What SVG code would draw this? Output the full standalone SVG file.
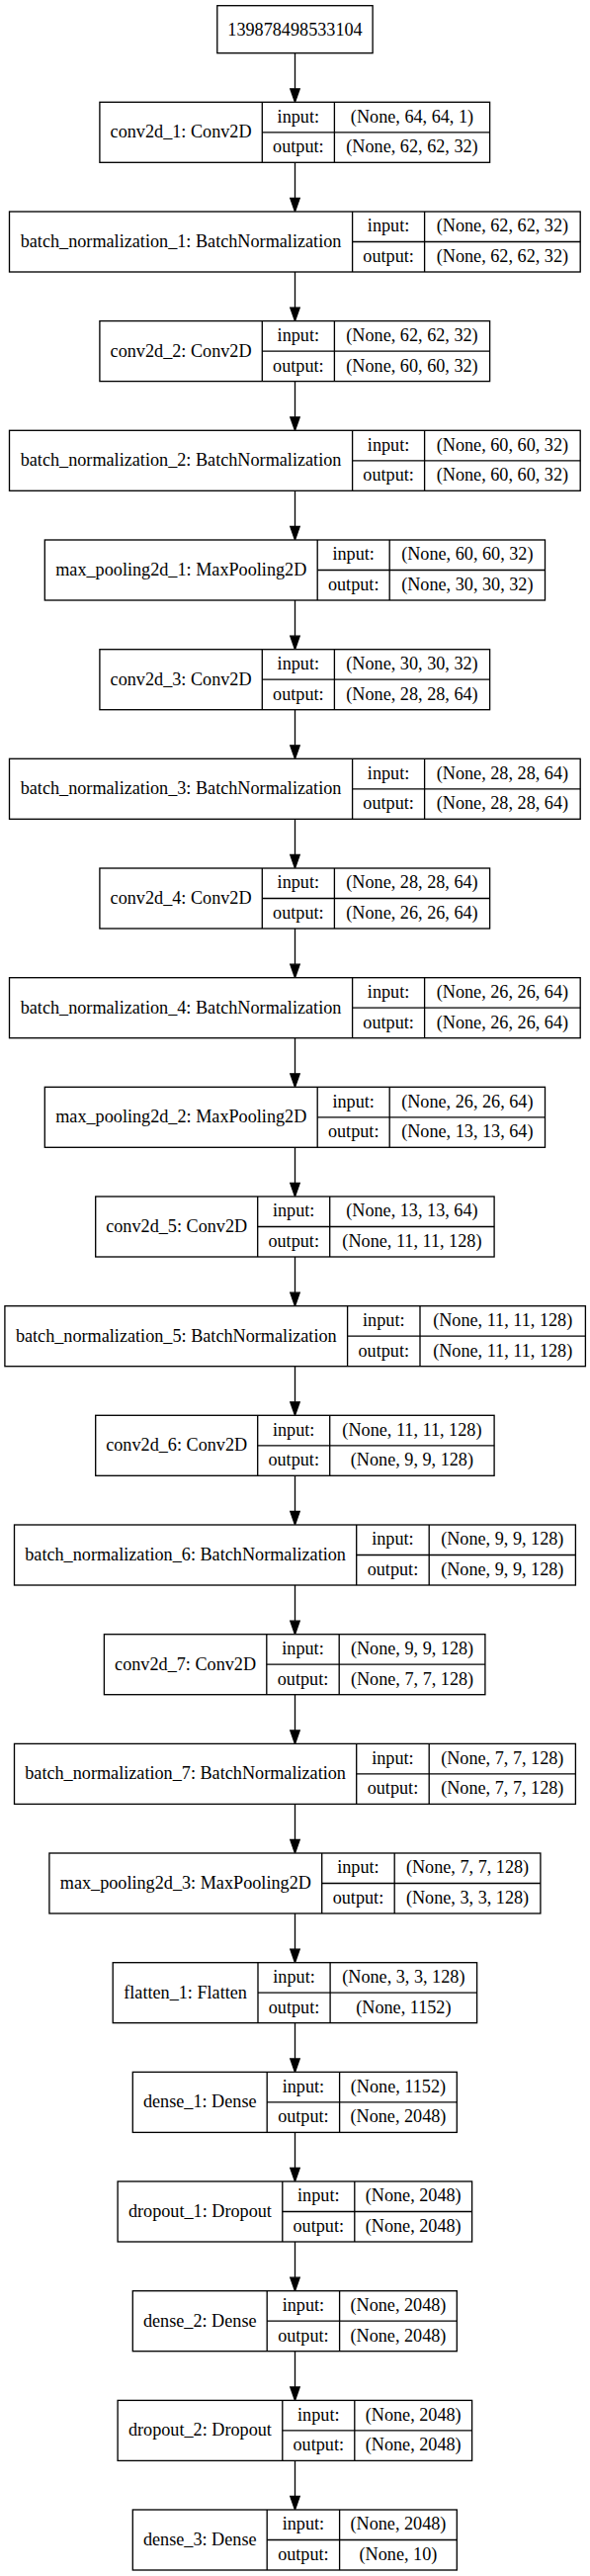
<svg xmlns="http://www.w3.org/2000/svg" width="597" height="2605" viewBox="0 0 597 2605">
<style>
rect{fill:#fff;stroke:#000;stroke-width:1.33}
line{stroke:#000;stroke-width:1.33}
text{font-family:"Liberation Serif","Times New Roman",serif;font-size:18.2px;fill:#000;text-anchor:middle}
.c path{fill:none;stroke:#000;stroke-width:1.33}
.c polygon{fill:#000;stroke:#000;stroke-width:1.33}
</style>
<rect x="0" y="0" width="597" height="2605" style="stroke:none"/>
<g class="c" id="connectors">
<path d="M298.5,54V89.8"/><polygon points="293.8,89.8 303.2,89.8 298.5,103.3"/>
<path d="M298.5,164.3V200.5"/><polygon points="293.8,200.5 303.2,200.5 298.5,214"/>
<path d="M298.5,275V311.1"/><polygon points="293.8,311.1 303.2,311.1 298.5,324.6"/>
<path d="M298.5,385.6V421.8"/><polygon points="293.8,421.8 303.2,421.8 298.5,435.3"/>
<path d="M298.5,496.3V532.5"/><polygon points="293.8,532.5 303.2,532.5 298.5,546"/>
<path d="M298.5,607V643.2"/><polygon points="293.8,643.2 303.2,643.2 298.5,656.7"/>
<path d="M298.5,717.7V753.8"/><polygon points="293.8,753.8 303.2,753.8 298.5,767.3"/>
<path d="M298.5,828.3V864.5"/><polygon points="293.8,864.5 303.2,864.5 298.5,878"/>
<path d="M298.5,939V975.2"/><polygon points="293.8,975.2 303.2,975.2 298.5,988.7"/>
<path d="M298.5,1049.7V1085.8"/><polygon points="293.8,1085.8 303.2,1085.8 298.5,1099.3"/>
<path d="M298.5,1160.3V1196.5"/><polygon points="293.8,1196.5 303.2,1196.5 298.5,1210"/>
<path d="M298.5,1271V1307.2"/><polygon points="293.8,1307.2 303.2,1307.2 298.5,1320.7"/>
<path d="M298.5,1381.7V1417.8"/><polygon points="293.8,1417.8 303.2,1417.8 298.5,1431.3"/>
<path d="M298.5,1492.3V1528.5"/><polygon points="293.8,1528.5 303.2,1528.5 298.5,1542"/>
<path d="M298.5,1603V1639.2"/><polygon points="293.8,1639.2 303.2,1639.2 298.5,1652.7"/>
<path d="M298.5,1713.7V1749.9"/><polygon points="293.8,1749.9 303.2,1749.9 298.5,1763.4"/>
<path d="M298.5,1824.4V1860.5"/><polygon points="293.8,1860.5 303.2,1860.5 298.5,1874"/>
<path d="M298.5,1935V1971.2"/><polygon points="293.8,1971.2 303.2,1971.2 298.5,1984.7"/>
<path d="M298.5,2045.7V2081.9"/><polygon points="293.8,2081.9 303.2,2081.9 298.5,2095.4"/>
<path d="M298.5,2156.4V2192.5"/><polygon points="293.8,2192.5 303.2,2192.5 298.5,2206"/>
<path d="M298.5,2267V2303.2"/><polygon points="293.8,2303.2 303.2,2303.2 298.5,2316.7"/>
<path d="M298.5,2377.7V2413.9"/><polygon points="293.8,2413.9 303.2,2413.9 298.5,2427.4"/>
<path d="M298.5,2488.4V2524.5"/><polygon points="293.8,2524.5 303.2,2524.5 298.5,2538"/>
</g>
<g id="input_node">
<rect x="219.8" y="5.7" width="157.3" height="48"/>
<text x="298.5" y="35.5">139878498533104</text>
</g>
<g id="conv2d_1" transform="translate(0,103.3)">
<rect x="100.9" y="0" width="394.7" height="61"/><line x1="265.3" y1="0" x2="265.3" y2="61"/><line x1="338.4" y1="0" x2="338.4" y2="61"/><line x1="265.3" y1="30.5" x2="495.6" y2="30.5"/>
<text x="183.1" y="36">conv2d_1: Conv2D</text><text x="301.85" y="20.3">input:</text><text x="301.85" y="51">output:</text>
<text x="417" y="20.3">(None, 64, 64, 1)</text><text x="417" y="51">(None, 62, 62, 32)</text>
</g>
<g id="batch_normalization_1" transform="translate(0,214)">
<rect x="9.5" y="0" width="577.7" height="61"/><line x1="356.6" y1="0" x2="356.6" y2="61"/><line x1="429.6" y1="0" x2="429.6" y2="61"/><line x1="356.6" y1="30.5" x2="587.2" y2="30.5"/>
<text x="183.05" y="36">batch_normalization_1: BatchNormalization</text><text x="393.1" y="20.3">input:</text><text x="393.1" y="51">output:</text>
<text x="508.4" y="20.3">(None, 62, 62, 32)</text><text x="508.4" y="51">(None, 62, 62, 32)</text>
</g>
<g id="conv2d_2" transform="translate(0,324.6)">
<rect x="100.9" y="0" width="394.7" height="61"/><line x1="265.3" y1="0" x2="265.3" y2="61"/><line x1="338.4" y1="0" x2="338.4" y2="61"/><line x1="265.3" y1="30.5" x2="495.6" y2="30.5"/>
<text x="183.1" y="36">conv2d_2: Conv2D</text><text x="301.85" y="20.3">input:</text><text x="301.85" y="51">output:</text>
<text x="417" y="20.3">(None, 62, 62, 32)</text><text x="417" y="51">(None, 60, 60, 32)</text>
</g>
<g id="batch_normalization_2" transform="translate(0,435.3)">
<rect x="9.5" y="0" width="577.7" height="61"/><line x1="356.6" y1="0" x2="356.6" y2="61"/><line x1="429.6" y1="0" x2="429.6" y2="61"/><line x1="356.6" y1="30.5" x2="587.2" y2="30.5"/>
<text x="183.05" y="36">batch_normalization_2: BatchNormalization</text><text x="393.1" y="20.3">input:</text><text x="393.1" y="51">output:</text>
<text x="508.4" y="20.3">(None, 60, 60, 32)</text><text x="508.4" y="51">(None, 60, 60, 32)</text>
</g>
<g id="max_pooling2d_1" transform="translate(0,546)">
<rect x="45.3" y="0" width="506.2" height="61"/><line x1="321.2" y1="0" x2="321.2" y2="61"/><line x1="394.2" y1="0" x2="394.2" y2="61"/><line x1="321.2" y1="30.5" x2="551.5" y2="30.5"/>
<text x="183.25" y="36">max_pooling2d_1: MaxPooling2D</text><text x="357.7" y="20.3">input:</text><text x="357.7" y="51">output:</text>
<text x="472.85" y="20.3">(None, 60, 60, 32)</text><text x="472.85" y="51">(None, 30, 30, 32)</text>
</g>
<g id="conv2d_3" transform="translate(0,656.7)">
<rect x="100.9" y="0" width="394.7" height="61"/><line x1="265.3" y1="0" x2="265.3" y2="61"/><line x1="338.4" y1="0" x2="338.4" y2="61"/><line x1="265.3" y1="30.5" x2="495.6" y2="30.5"/>
<text x="183.1" y="36">conv2d_3: Conv2D</text><text x="301.85" y="20.3">input:</text><text x="301.85" y="51">output:</text>
<text x="417" y="20.3">(None, 30, 30, 32)</text><text x="417" y="51">(None, 28, 28, 64)</text>
</g>
<g id="batch_normalization_3" transform="translate(0,767.3)">
<rect x="9.5" y="0" width="577.7" height="61"/><line x1="356.6" y1="0" x2="356.6" y2="61"/><line x1="429.6" y1="0" x2="429.6" y2="61"/><line x1="356.6" y1="30.5" x2="587.2" y2="30.5"/>
<text x="183.05" y="36">batch_normalization_3: BatchNormalization</text><text x="393.1" y="20.3">input:</text><text x="393.1" y="51">output:</text>
<text x="508.4" y="20.3">(None, 28, 28, 64)</text><text x="508.4" y="51">(None, 28, 28, 64)</text>
</g>
<g id="conv2d_4" transform="translate(0,878)">
<rect x="100.9" y="0" width="394.7" height="61"/><line x1="265.3" y1="0" x2="265.3" y2="61"/><line x1="338.4" y1="0" x2="338.4" y2="61"/><line x1="265.3" y1="30.5" x2="495.6" y2="30.5"/>
<text x="183.1" y="36">conv2d_4: Conv2D</text><text x="301.85" y="20.3">input:</text><text x="301.85" y="51">output:</text>
<text x="417" y="20.3">(None, 28, 28, 64)</text><text x="417" y="51">(None, 26, 26, 64)</text>
</g>
<g id="batch_normalization_4" transform="translate(0,988.7)">
<rect x="9.5" y="0" width="577.7" height="61"/><line x1="356.6" y1="0" x2="356.6" y2="61"/><line x1="429.6" y1="0" x2="429.6" y2="61"/><line x1="356.6" y1="30.5" x2="587.2" y2="30.5"/>
<text x="183.05" y="36">batch_normalization_4: BatchNormalization</text><text x="393.1" y="20.3">input:</text><text x="393.1" y="51">output:</text>
<text x="508.4" y="20.3">(None, 26, 26, 64)</text><text x="508.4" y="51">(None, 26, 26, 64)</text>
</g>
<g id="max_pooling2d_2" transform="translate(0,1099.3)">
<rect x="45.3" y="0" width="506.2" height="61"/><line x1="321.2" y1="0" x2="321.2" y2="61"/><line x1="394.2" y1="0" x2="394.2" y2="61"/><line x1="321.2" y1="30.5" x2="551.5" y2="30.5"/>
<text x="183.25" y="36">max_pooling2d_2: MaxPooling2D</text><text x="357.7" y="20.3">input:</text><text x="357.7" y="51">output:</text>
<text x="472.85" y="20.3">(None, 26, 26, 64)</text><text x="472.85" y="51">(None, 13, 13, 64)</text>
</g>
<g id="conv2d_5" transform="translate(0,1210)">
<rect x="96.7" y="0" width="403.4" height="61"/><line x1="260.7" y1="0" x2="260.7" y2="61"/><line x1="333.7" y1="0" x2="333.7" y2="61"/><line x1="260.7" y1="30.5" x2="500.1" y2="30.5"/>
<text x="178.7" y="36">conv2d_5: Conv2D</text><text x="297.2" y="20.3">input:</text><text x="297.2" y="51">output:</text>
<text x="416.9" y="20.3">(None, 13, 13, 64)</text><text x="416.9" y="51">(None, 11, 11, 128)</text>
</g>
<g id="batch_normalization_5" transform="translate(0,1320.7)">
<rect x="4.9" y="0" width="587.5" height="61"/><line x1="351.6" y1="0" x2="351.6" y2="61"/><line x1="425" y1="0" x2="425" y2="61"/><line x1="351.6" y1="30.5" x2="592.4" y2="30.5"/>
<text x="178.25" y="36">batch_normalization_5: BatchNormalization</text><text x="388.3" y="20.3">input:</text><text x="388.3" y="51">output:</text>
<text x="508.7" y="20.3">(None, 11, 11, 128)</text><text x="508.7" y="51">(None, 11, 11, 128)</text>
</g>
<g id="conv2d_6" transform="translate(0,1431.3)">
<rect x="96.7" y="0" width="403.4" height="61"/><line x1="260.7" y1="0" x2="260.7" y2="61"/><line x1="333.7" y1="0" x2="333.7" y2="61"/><line x1="260.7" y1="30.5" x2="500.1" y2="30.5"/>
<text x="178.7" y="36">conv2d_6: Conv2D</text><text x="297.2" y="20.3">input:</text><text x="297.2" y="51">output:</text>
<text x="416.9" y="20.3">(None, 11, 11, 128)</text><text x="416.9" y="51">(None, 9, 9, 128)</text>
</g>
<g id="batch_normalization_6" transform="translate(0,1542)">
<rect x="14.5" y="0" width="567.9" height="61"/><line x1="360.7" y1="0" x2="360.7" y2="61"/><line x1="434.2" y1="0" x2="434.2" y2="61"/><line x1="360.7" y1="30.5" x2="582.4" y2="30.5"/>
<text x="187.6" y="36">batch_normalization_6: BatchNormalization</text><text x="397.45" y="20.3">input:</text><text x="397.45" y="51">output:</text>
<text x="508.3" y="20.3">(None, 9, 9, 128)</text><text x="508.3" y="51">(None, 9, 9, 128)</text>
</g>
<g id="conv2d_7" transform="translate(0,1652.7)">
<rect x="105.4" y="0" width="385.5" height="61"/><line x1="269.8" y1="0" x2="269.8" y2="61"/><line x1="343.2" y1="0" x2="343.2" y2="61"/><line x1="269.8" y1="30.5" x2="490.9" y2="30.5"/>
<text x="187.6" y="36">conv2d_7: Conv2D</text><text x="306.5" y="20.3">input:</text><text x="306.5" y="51">output:</text>
<text x="417.05" y="20.3">(None, 9, 9, 128)</text><text x="417.05" y="51">(None, 7, 7, 128)</text>
</g>
<g id="batch_normalization_7" transform="translate(0,1763.4)">
<rect x="14.5" y="0" width="567.9" height="61"/><line x1="360.7" y1="0" x2="360.7" y2="61"/><line x1="434.2" y1="0" x2="434.2" y2="61"/><line x1="360.7" y1="30.5" x2="582.4" y2="30.5"/>
<text x="187.6" y="36">batch_normalization_7: BatchNormalization</text><text x="397.45" y="20.3">input:</text><text x="397.45" y="51">output:</text>
<text x="508.3" y="20.3">(None, 7, 7, 128)</text><text x="508.3" y="51">(None, 7, 7, 128)</text>
</g>
<g id="max_pooling2d_3" transform="translate(0,1874)">
<rect x="49.9" y="0" width="497" height="61"/><line x1="325.7" y1="0" x2="325.7" y2="61"/><line x1="399.2" y1="0" x2="399.2" y2="61"/><line x1="325.7" y1="30.5" x2="546.9" y2="30.5"/>
<text x="187.8" y="36">max_pooling2d_3: MaxPooling2D</text><text x="362.45" y="20.3">input:</text><text x="362.45" y="51">output:</text>
<text x="473.05" y="20.3">(None, 7, 7, 128)</text><text x="473.05" y="51">(None, 3, 3, 128)</text>
</g>
<g id="flatten_1" transform="translate(0,1984.7)">
<rect x="114.2" y="0" width="368.4" height="61"/><line x1="261" y1="0" x2="261" y2="61"/><line x1="334.1" y1="0" x2="334.1" y2="61"/><line x1="261" y1="30.5" x2="482.6" y2="30.5"/>
<text x="187.6" y="36">flatten_1: Flatten</text><text x="297.55" y="20.3">input:</text><text x="297.55" y="51">output:</text>
<text x="408.35" y="20.3">(None, 3, 3, 128)</text><text x="408.35" y="51">(None, 1152)</text>
</g>
<g id="dense_1" transform="translate(0,2095.4)">
<rect x="134.3" y="0" width="328" height="61"/><line x1="270.2" y1="0" x2="270.2" y2="61"/><line x1="343.6" y1="0" x2="343.6" y2="61"/><line x1="270.2" y1="30.5" x2="462.3" y2="30.5"/>
<text x="202.25" y="36">dense_1: Dense</text><text x="306.9" y="20.3">input:</text><text x="306.9" y="51">output:</text>
<text x="402.95" y="20.3">(None, 1152)</text><text x="402.95" y="51">(None, 2048)</text>
</g>
<g id="dropout_1" transform="translate(0,2206)">
<rect x="119.1" y="0" width="358.5" height="61"/><line x1="285.8" y1="0" x2="285.8" y2="61"/><line x1="358.8" y1="0" x2="358.8" y2="61"/><line x1="285.8" y1="30.5" x2="477.6" y2="30.5"/>
<text x="202.45" y="36">dropout_1: Dropout</text><text x="322.3" y="20.3">input:</text><text x="322.3" y="51">output:</text>
<text x="418.2" y="20.3">(None, 2048)</text><text x="418.2" y="51">(None, 2048)</text>
</g>
<g id="dense_2" transform="translate(0,2316.7)">
<rect x="134.3" y="0" width="328" height="61"/><line x1="270.2" y1="0" x2="270.2" y2="61"/><line x1="343.6" y1="0" x2="343.6" y2="61"/><line x1="270.2" y1="30.5" x2="462.3" y2="30.5"/>
<text x="202.25" y="36">dense_2: Dense</text><text x="306.9" y="20.3">input:</text><text x="306.9" y="51">output:</text>
<text x="402.95" y="20.3">(None, 2048)</text><text x="402.95" y="51">(None, 2048)</text>
</g>
<g id="dropout_2" transform="translate(0,2427.4)">
<rect x="119.1" y="0" width="358.5" height="61"/><line x1="285.8" y1="0" x2="285.8" y2="61"/><line x1="358.8" y1="0" x2="358.8" y2="61"/><line x1="285.8" y1="30.5" x2="477.6" y2="30.5"/>
<text x="202.45" y="36">dropout_2: Dropout</text><text x="322.3" y="20.3">input:</text><text x="322.3" y="51">output:</text>
<text x="418.2" y="20.3">(None, 2048)</text><text x="418.2" y="51">(None, 2048)</text>
</g>
<g id="dense_3" transform="translate(0,2538)">
<rect x="134.3" y="0" width="328" height="61"/><line x1="270.2" y1="0" x2="270.2" y2="61"/><line x1="343.6" y1="0" x2="343.6" y2="61"/><line x1="270.2" y1="30.5" x2="462.3" y2="30.5"/>
<text x="202.25" y="36">dense_3: Dense</text><text x="306.9" y="20.3">input:</text><text x="306.9" y="51">output:</text>
<text x="402.95" y="20.3">(None, 2048)</text><text x="402.95" y="51">(None, 10)</text>
</g>
</svg>
